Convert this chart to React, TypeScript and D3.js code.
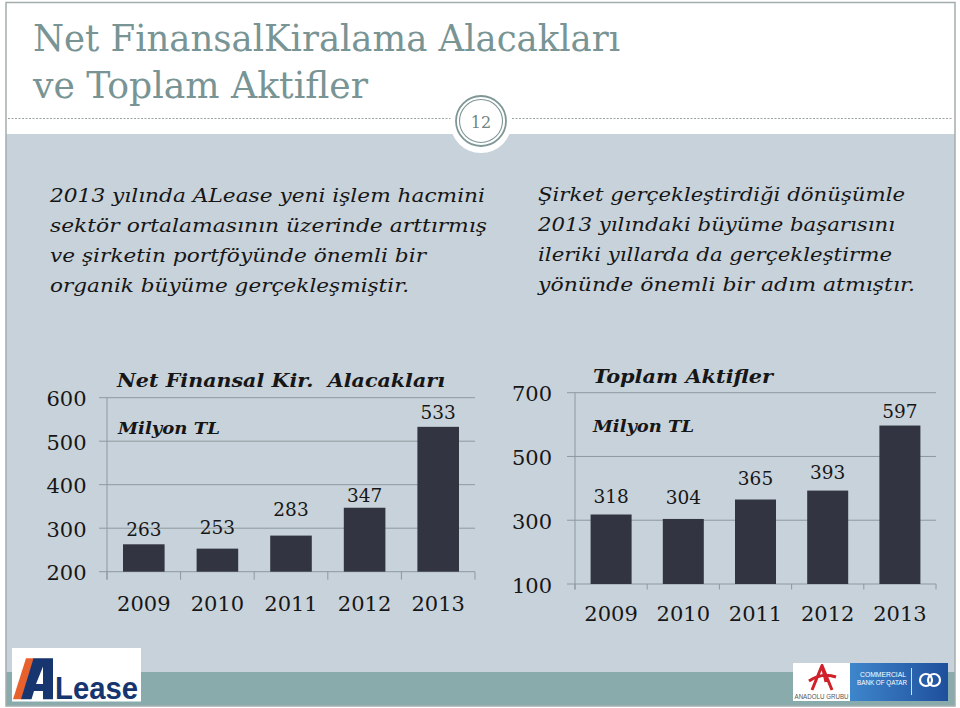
import React from 'react';
import * as d3 from 'd3';

// ---------- data ----------
const years = ['2009', '2010', '2011', '2012', '2013'];
const netFinansal = [263, 253, 283, 347, 533];
const toplamAktifler = [318, 304, 365, 393, 597];
const ticksNet = [200, 300, 400, 500, 600];
const ticksToplam = [100, 300, 500, 700];
const titleNet = 'Net Finansal Kir.  Alacakları';
const titleToplam = 'Toplam Aktifler';
const unitLabel = 'Milyon TL';
const pageTitle = ['Net FinansalKiralama Alacakları', 've Toplam Aktifler'];
const leftLines = [
  '2013 yılında ALease yeni işlem hacmini',
  'sektör ortalamasının üzerinde arttırmış',
  've şirketin portföyünde önemli bir',
  'organik büyüme gerçekleşmiştir.',
];
const rightLines = [
  'Şirket gerçekleştirdiği dönüşümle',
  '2013 yılındaki büyüme başarısını',
  'ileriki yıllarda da gerçekleştirme',
  'yönünde önemli bir adım atmıştır.',
];
const pageNumber = '12';

// ---------- layout / style (not data) ----------
const leftLineWidths = [435, 437, 376, 359];
const rightLineWidths = [367, 357, 354, 377];
const liftNet = [8, 15, 20, 6, 8];
const liftToplam = [11, 15, 15, 12, 8];

const SERIF = "'DejaVu Serif', serif";
const COND = "'DejaVu Serif Condensed', 'DejaVu Serif', serif";
const BAR = '#323541';
const GRID = '#8e989f';
const INK = '#161616';

type ChartProps = {
  values: number[];
  ticks: number[];
  domain: [number, number];
  x0: number; x1: number; yTop: number; yBottom: number;
  pad: number;
  leftTick: number; bottomTick: number;
  tickRight: number;
  yearBase: number;
  lifts: number[];
  title: string; titleX: number; titleY: number; titleLen: number;
  unitX: number; unitY: number; unitLen: number;
};

function BarChart(p: ChartProps) {
  const x = d3.scaleBand<string>().domain(years).range([p.x0, p.x1])
    .paddingInner(p.pad).paddingOuter(p.pad / 2);
  const y = d3.scaleLinear().domain(p.domain).range([p.yBottom, p.yTop]);
  const bounds = d3.range(years.length + 1).map(i => p.x0 + i * x.step());
  return (
    <g>
      {p.ticks.map(t => (
        <line key={'g' + t} x1={p.x0 - p.leftTick} x2={p.x1} y1={y(t)} y2={y(t)}
          stroke={GRID} strokeWidth={1} />
      ))}
      <line x1={p.x0} x2={p.x0} y1={y(p.domain[1])} y2={p.yBottom + p.bottomTick} stroke={GRID} strokeWidth={1} />
      {bounds.map((b, i) => (
        <line key={'b' + i} x1={b} x2={b} y1={p.yBottom} y2={p.yBottom + p.bottomTick} stroke={GRID} strokeWidth={1} />
      ))}
      {p.ticks.map(t => (
        <text key={'t' + t} x={p.tickRight} y={y(t) + 8.5} textAnchor="end"
          fontFamily={SERIF} fontSize={21} fill={INK}>{t}</text>
      ))}
      {p.values.map((v, i) => (
        <rect key={'r' + i} x={x(years[i])} y={y(v)} width={x.bandwidth()}
          height={p.yBottom - y(v)} fill={BAR} />
      ))}
      {p.values.map((v, i) => (
        <text key={'v' + i} x={(x(years[i]) as number) + x.bandwidth() / 2} y={y(v) - p.lifts[i]}
          textAnchor="middle" fontFamily={SERIF} fontSize={18.5} fill={INK}>{v}</text>
      ))}
      {years.map(yr => (
        <text key={'y' + yr} x={(x(yr) as number) + x.bandwidth() / 2} y={p.yearBase}
          textAnchor="middle" fontFamily={SERIF} fontSize={21} fill={INK}>{yr}</text>
      ))}
      <text x={p.titleX} y={p.titleY} fontFamily={SERIF} fontStyle="italic" fontWeight="bold"
        fontSize={19} fill={INK} textLength={p.titleLen} lengthAdjust="spacingAndGlyphs"
        style={{ whiteSpace: 'pre' }}>{p.title}</text>
      <text x={p.unitX} y={p.unitY} fontFamily={SERIF} fontStyle="italic" fontWeight="bold"
        fontSize={17} fill={INK} textLength={p.unitLen} lengthAdjust="spacingAndGlyphs">{unitLabel}</text>
    </g>
  );
}

export default function App() {
  const cx = 481, cy = 122;
  return (
    <svg width={960} height={708} viewBox="0 0 960 708"
      style={{ position: 'absolute', left: 0, top: 0, display: 'block' }}>
      <defs>
        <linearGradient id="cbq" x1="0" x2="1" y1="0" y2="0">
          <stop offset="0" stopColor="#3e86cc" />
          <stop offset="1" stopColor="#1f4f9c" />
        </linearGradient>
      </defs>
      <rect x={0} y={0} width={960} height={708} fill="#ffffff" />
      {/* panels */}
      <rect x={6} y={134} width={949} height={538} fill="#c8d2da" />
      <rect x={6} y={672} width={949} height={34} fill="#8aabab" />
      <rect x={6} y={2.5} width={949} height={703.5} fill="none" stroke="#a3adad" strokeWidth={1.5} />

      {/* title */}
      {pageTitle.map((t, i) => (
        <text key={t} x={33} y={51 + i * 46.5} fontFamily={COND} fontSize={38} fill="#789494"
          textLength={i === 0 ? 587 : 335} lengthAdjust="spacingAndGlyphs">{t}</text>
      ))}

      {/* dotted rule and page number */}
      <line x1={8} x2={953} y1={118.5} y2={118.5} stroke="#9aa4a4" strokeWidth={1} strokeDasharray="2 1.5" />
      <circle cx={cx} cy={cy} r={31} fill="#ffffff" />
      <circle cx={cx} cy={cy - 1} r={25} fill="none" stroke="#7f9696" strokeWidth={1.8} />
      <circle cx={cx} cy={cy - 1} r={21.5} fill="none" stroke="#7f9696" strokeWidth={1.1} />
      <text x={cx} y={cy + 5.5} textAnchor="middle" fontFamily={SERIF} fontSize={16} fill="#6f8585">{pageNumber}</text>

      {/* body text */}
      {leftLines.map((t, i) => (
        <text key={'l' + i} x={50} y={202 + i * 30} fontFamily={SERIF} fontStyle="italic" fontSize={19}
          fill={INK} textLength={leftLineWidths[i]} lengthAdjust="spacingAndGlyphs">{t}</text>
      ))}
      {rightLines.map((t, i) => (
        <text key={'r' + i} x={538} y={201 + i * 30} fontFamily={SERIF} fontStyle="italic" fontSize={19}
          fill={INK} textLength={rightLineWidths[i]} lengthAdjust="spacingAndGlyphs">{t}</text>
      ))}

      {/* charts */}
      <BarChart values={netFinansal} ticks={ticksNet} domain={[200, 600]}
        x0={107} x1={475} yTop={397.7} yBottom={571.7} pad={0.435}
        leftTick={8} bottomTick={8} tickRight={86.5} yearBase={611} lifts={liftNet}
        title={titleNet} titleX={117} titleY={386.5} titleLen={328}
        unitX={118} unitY={434} unitLen={102} />
      <BarChart values={toplamAktifler} ticks={ticksToplam} domain={[100, 700]}
        x0={575} x1={936} yTop={392.7} yBottom={584} pad={0.432}
        leftTick={8} bottomTick={5.5} tickRight={552} yearBase={621} lifts={liftToplam}
        title={titleToplam} titleX={593} titleY={383} titleLen={180}
        unitX={593} unitY={431.5} unitLen={101} />

      {/* ALease logo */}
      <rect x={12} y={648} width={129} height={53.5} fill="#ffffff" />
      <polygon points="13,699.3 26,658.3 34,658.3 21.5,699.3" fill="#e8612c" />
      <path d="M21,699.3 L33.5,658.3 L53,658.3 L53,699.3 L43,699.3 L43,691 L34,691 L31.5,699.3 Z M36,684 L43,684 L43,666.5 Z"
        fill="#17356f" fillRule="evenodd" />
      <text x={55} y={699} fontFamily="'Liberation Sans', Arial, sans-serif" fontWeight="bold" fontSize={31}
        fill="#17356f" textLength={83} lengthAdjust="spacingAndGlyphs">Lease</text>

      {/* Anadolu Grubu / CBQ logos */}
      <rect x={793} y={663} width={57} height={38} fill="#ffffff" />
      <path d="M812,690 L822,665.5 L832,690 M809,681 Q822,672 836,677 M822,665.5 L826,682"
        fill="none" stroke="#d0202a" strokeWidth={3} strokeLinejoin="round" />
      <text x={821.5} y={698.5} textAnchor="middle" fontFamily="'Liberation Sans', sans-serif" fontSize={6.5}
        fill="#555555" textLength={54} lengthAdjust="spacingAndGlyphs">ANADOLU GRUBU</text>
      <rect x={850} y={663} width={98} height={38} fill="url(#cbq)" />
      <text x={883} y={677} textAnchor="middle" fontFamily="'Liberation Sans', sans-serif" fontSize={6.5}
        fill="#ffffff" textLength={46} lengthAdjust="spacingAndGlyphs">COMMERCIAL</text>
      <text x={882} y={684.5} textAnchor="middle" fontFamily="'Liberation Sans', sans-serif" fontSize={6.5}
        fill="#ffffff" textLength={50} lengthAdjust="spacingAndGlyphs">BANK OF QATAR</text>
      <line x1={911.5} x2={911.5} y1={668} y2={695} stroke="#ffffff" strokeWidth={0.8} />
      <circle cx={926} cy={680} r={6} fill="none" stroke="#ffffff" strokeWidth={2.2} />
      <circle cx={934} cy={680} r={6} fill="none" stroke="#ffffff" strokeWidth={2.2} />
    </svg>
  );
}
